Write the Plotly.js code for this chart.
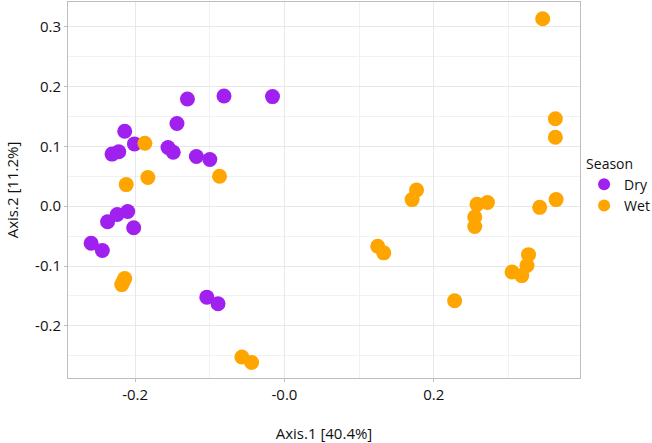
<!DOCTYPE html>
<html>
<head>
<meta charset="utf-8">
<script src="https://cdn.plot.ly/plotly-3.0.1.min.js"></script>
<style>
  body { margin: 0; background: #fff; }
  #chart { width: 652px; height: 443px; }
</style>
</head>
<body>
<div id="chart"></div>
<script>
// PCoA coordinates
const dryX = [-0.130, -0.081, -0.016, -0.144, -0.214, -0.201, -0.231, -0.222, -0.156, -0.149,
              -0.118, -0.100, -0.237, -0.224, -0.210, -0.202, -0.259, -0.244, -0.104, -0.089];
const dryY = [0.179, 0.184, 0.183, 0.138, 0.125, 0.104, 0.087, 0.091, 0.098, 0.090,
              0.083, 0.078, -0.026, -0.014, -0.009, -0.036, -0.062, -0.074, -0.152, -0.163];

const wetX = [-0.187, -0.183, -0.212, -0.087, -0.214, -0.218, -0.216, -0.057, -0.044,
              0.346, 0.363, 0.363, 0.364, 0.342, 0.177, 0.171, 0.272, 0.258, 0.255, 0.255,
              0.125, 0.133, 0.228, 0.305, 0.318, 0.325, 0.327];
const wetY = [0.105, 0.048, 0.036, 0.050, -0.121, -0.131, -0.126, -0.252, -0.261,
              0.313, 0.146, 0.115, 0.011, -0.002, 0.027, 0.011, 0.006, 0.003, -0.018, -0.034,
              -0.067, -0.078, -0.158, -0.110, -0.116, -0.099, -0.081];

const xTickVals = [-0.2, 0, 0.2];
const xTickText = ['-0.2', '-0.0', '0.2'];
const yTickVals = [-0.2, -0.1, 0, 0.1, 0.2, 0.3];
const yTickText = ['-0.2', '-0.1', '0.0', '0.1', '0.2', '0.3'];

const font = 'Open Sans, Liberation Sans, sans-serif';

const traces = [
    {
        x: dryX, y: dryY, type: 'scatter', mode: 'markers', name: 'Dry',
        marker: { color: '#A020F0', size: 15 }
    },
    {
        x: wetX, y: wetY, type: 'scatter', mode: 'markers', name: 'Wet',
        marker: { color: '#FFA500', size: 15 }
    }
];

const axisCommon = {
    showline: true, linecolor: '#bdbdbd', linewidth: 1, mirror: true,
    ticks: 'outside', ticklen: 3, tickcolor: '#bdbdbd',
    gridcolor: '#e8e8e8', zeroline: false,
    tickfont: { family: font, size: 15, color: '#111' }
};

const layout = {
    width: 652, height: 443,
    margin: { l: 68, r: 72, t: 2, b: 65, autoexpand: false },
    paper_bgcolor: '#fff', plot_bgcolor: '#fff',
    showlegend: true,
    legend: {
        x: 1.008, xanchor: 'left', y: 0.605, yanchor: 'top',
        title: { text: 'Season', font: { family: font, size: 14, color: '#111' } },
        font: { family: font, size: 14, color: '#111' },
        itemsizing: 'constant', tracegroupgap: 0
    },
    xaxis: Object.assign({}, axisCommon, {
        range: [-0.29, 0.396],
        tickvals: xTickVals, ticktext: xTickText,
        minor: { tickvals: [-0.1, 0.1, 0.3], showgrid: true, gridcolor: '#f1f1f1', ticks: '' },
        title: { text: 'Axis.1 [40.4%]', font: { family: font, size: 15, color: '#111' }, standoff: 25 }
    }),
    yaxis: Object.assign({}, axisCommon, {
        range: [-0.287, 0.341],
        tickvals: yTickVals, ticktext: yTickText,
        minor: { tickvals: [-0.25, -0.15, -0.05, 0.05, 0.15, 0.25], showgrid: true, gridcolor: '#f1f1f1', ticks: '' },
        title: { text: 'Axis.2 [11.2%]', font: { family: font, size: 15, color: '#111' }, standoff: 12 }
    })
};

Plotly.newPlot('chart', traces, layout, { displayModeBar: false });
</script>
</body>
</html>
